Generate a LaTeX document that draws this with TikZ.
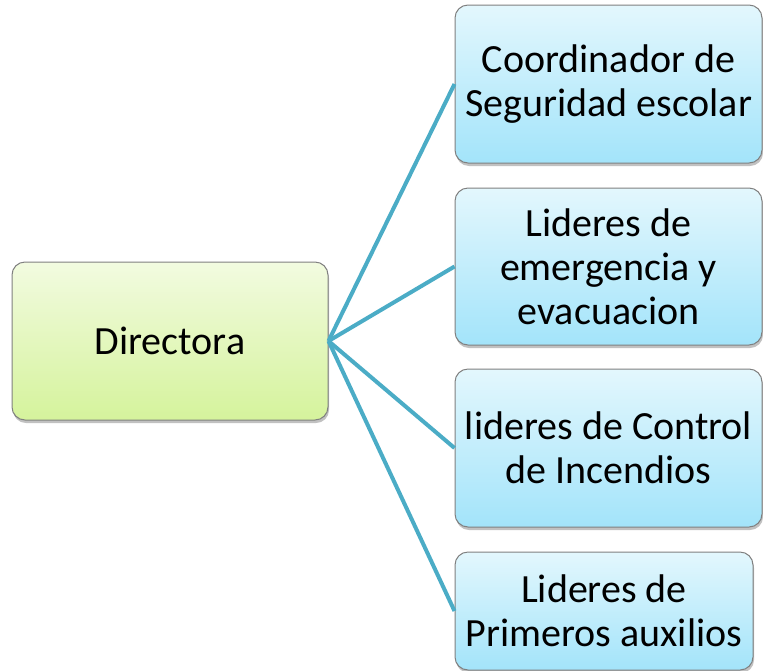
\documentclass[tikz,border=0pt]{standalone}
\usepackage{fontspec}
\setmainfont{Carlito}
\usetikzlibrary{shadows}
\definecolor{linkc}{HTML}{4BACC6}
\definecolor{edgec}{HTML}{808080}
\definecolor{gtop}{HTML}{F2FBE0}
\definecolor{gbot}{HTML}{D5F39C}
\definecolor{btop}{HTML}{E3F7FD}
\definecolor{bbot}{HTML}{A3E4FA}
\tikzset{
  basebox/.style={draw=edgec, line width=1pt, rounded corners=13pt, align=center,
    font=\fontsize{40}{44}\selectfont, inner sep=0pt,
    drop shadow={shadow xshift=1pt, shadow yshift=-3pt, opacity=0.35, fill=black!70}},
  rootbox/.style={basebox, top color=gtop, bottom color=gbot},
  leafbox/.style={basebox, top color=btop, bottom color=bbot},
  link/.style={draw=linkc, line width=4pt}
}
\begin{document}
\begin{tikzpicture}[x=1pt, y=-1pt]
\useasboundingbox (0,0) rectangle (763,670);
\node[rootbox, minimum width=316pt, minimum height=158pt] (dir) at (170,341) {Directora};
\node[leafbox, minimum width=307pt, minimum height=158pt] (b1) at (608.5,84) {Coordinador de\\Seguridad escolar};
\node[leafbox, minimum width=307pt, minimum height=157pt] (b2) at (608.5,266.5) {Lideres de\\emergencia y\\evacuacion};
\node[leafbox, minimum width=307pt, minimum height=158pt] (b3) at (608.5,448) {lideres de Control\\de Incendios};
\node[leafbox, minimum width=298pt, minimum height=118pt] (b4) at (604,611) {Lideres de\\Primeros auxilios};
\foreach \b in {b1,b2,b3,b4} \draw[link] (dir.east) -- (\b.west);
\end{tikzpicture}
\end{document}
